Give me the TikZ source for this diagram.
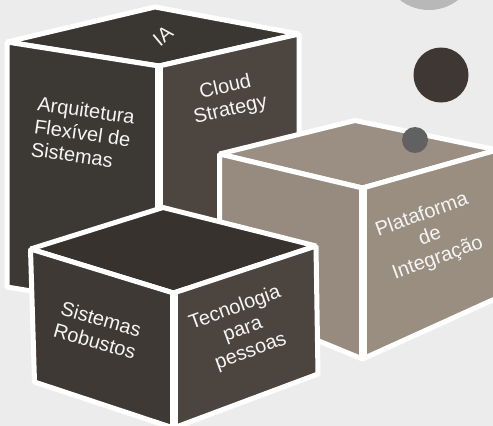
\documentclass[tikz,border=0pt]{standalone}
\usepackage{fontspec}
\setmainfont{Liberation Sans}
\usepackage{xcolor}
\usepackage{tikz}
\usetikzlibrary{positioning, calc}
\definecolor{marble}{HTML}{ECECEC}
\definecolor{arqtop}{HTML}{3A3631}
\definecolor{arqleft}{HTML}{3C3833}
\definecolor{arqright}{HTML}{4D4540}
\definecolor{sistop}{HTML}{37322D}
\definecolor{sisleft}{HTML}{3E3934}
\definecolor{sisright}{HTML}{4C443E}
\definecolor{plattop}{HTML}{9B8F83}
\definecolor{platleft}{HTML}{978B7F}
\definecolor{platright}{HTML}{9A8E81}
\tikzset{
    face/.style = {draw=white, line width=5pt, line join=bevel},
    spine/.style = {draw=white, line width=8pt},
    dot/.style = {circle, inner sep=0pt, minimum size=#1},
    facetext/.style = {text=white!96!black, inner sep=0pt, align=center,
        font=\fontsize{20}{23}\selectfont},
}

\begin{document}
\begin{tikzpicture}[x=1pt, y=-1pt]
        \useasboundingbox (0,0) rectangle (493,426);
        \fill[marble] (0,0) rectangle (493,426);
        \node (ball-grey) [dot=94pt, fill=black!28] at (429,-37) {};
        % big cube
        \coordinate (arq-ft) at (159,66);
        \coordinate (arq-lt) at (7,42);
        \coordinate (arq-bt) at (155,7);
        \coordinate (arq-rt) at (299,34);
        \coordinate (arq-fb) at (159,312);
        \coordinate (arq-lb) at (7,287);
        \coordinate (arq-rb) at (299,282);
        \draw[face, fill=arqtop] (arq-ft) -- (arq-lt) -- (arq-bt) -- (arq-rt) -- cycle;
        \draw[face, fill=arqleft] (arq-ft) -- (arq-lt) -- (arq-lb) -- (arq-fb) -- cycle;
        \draw[face, fill=arqright] (arq-ft) -- (arq-rt) -- (arq-rb) -- (arq-fb) -- cycle;
        \draw[spine] (arq-ft) -- (arq-fb);
        % integration cube
        \coordinate (plat-ft) at (362.5,188);
        \coordinate (plat-lt) at (219.5,154);
        \coordinate (plat-bt) at (355,120.5);
        \coordinate (plat-rt) at (497,150);
        \coordinate (plat-fb) at (362.5,359);
        \coordinate (plat-lb) at (219.5,300);
        \coordinate (plat-rb) at (497,298);
        \draw[face, fill=plattop] (plat-ft) -- (plat-lt) -- (plat-bt) -- (plat-rt) -- cycle;
        \draw[face, fill=platleft] (plat-ft) -- (plat-lt) -- (plat-lb) -- (plat-fb) -- cycle;
        \draw[face, fill=platright] (plat-ft) -- (plat-rt) -- (plat-rb) -- (plat-fb) -- cycle;
        \draw[spine] (plat-ft) -- (plat-fb);
        \node (ball-small) [dot=26pt, fill=black!62] at (415,140) {};
        % front cube
        \coordinate (sis-ft) at (173.5,293);
        \coordinate (sis-lt) at (30.5,249);
        \coordinate (sis-bt) at (163,207.5);
        \coordinate (sis-rt) at (316,246);
        \coordinate (sis-fb) at (173.5,428);
        \coordinate (sis-lb) at (34.5,382);
        \coordinate (sis-rb) at (318,374);
        \draw[face, fill=sistop] (sis-ft) -- (sis-lt) -- (sis-bt) -- (sis-rt) -- cycle;
        \draw[face, fill=sisleft] (sis-ft) -- (sis-lt) -- (sis-lb) -- (sis-fb) -- cycle;
        \draw[face, fill=sisright] (sis-ft) -- (sis-rt) -- (sis-rb) -- (sis-fb) -- cycle;
        \draw[spine] (sis-ft) -- (sis-fb);
        \node (ball-dark) [dot=55pt, fill=arqright!80!black] at (441,75) {};
        % labels
        \node (ia) [facetext, rotate=40] at (163,36) {IA};
        \node (arq) [facetext, align=left, rotate=-8] at (83,133) {Arquitetura\\Flexível de\\Sistemas};
        \node (cloud) [facetext, rotate=13] at (228,99) {Cloud\\Strategy};
        \node (plat) [facetext, rotate=20] at (430,237) {Plataforma\\de\\Integração};
        \node (sis) [facetext, rotate=-16] at (98,330) {Sistemas\\Robustos};
        \node (tec) [facetext, rotate=20] at (243,330) {Tecnologia\\para\\pessoas};
\end{tikzpicture}
\end{document}
